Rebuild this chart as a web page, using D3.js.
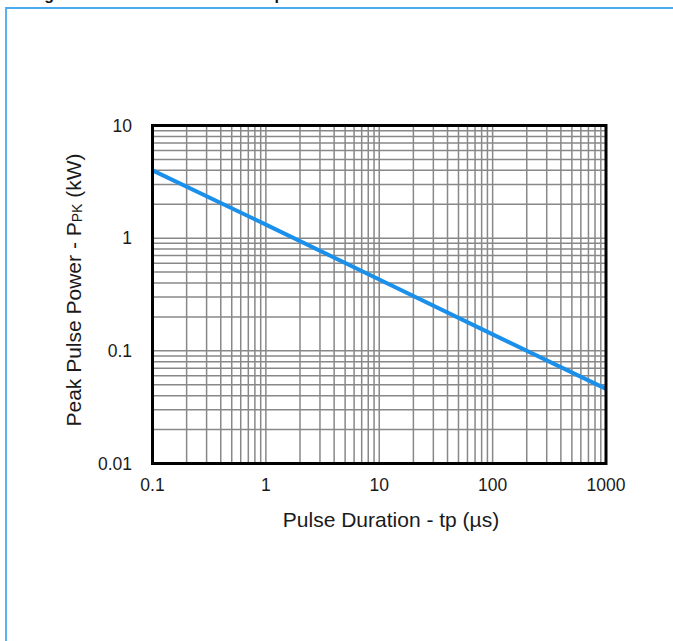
<!DOCTYPE html>
<html>
<head>
	<meta charset="utf-8">
	<title>Peak Pulse Power vs Pulse Duration</title>
	<script src="https://d3js.org/d3.v7.min.js"></script>
</head>
<style>
	body{
		margin:0;
		background-color:#fff;
		font-family: 'Liberation Sans', Arial, sans-serif;
	}
</style>
<body>
<div class="screen"></div>
<script>

//DATA

var pulseDuration = [0.1, 1, 10, 100, 1000];
var peakPower = [4.0, 1.32, 0.43, 0.14, 0.046];

var xTickLabels = ["0.1", "1", "10", "100", "1000"];
var yTickLabels = ["0.01", "0.1", "1", "10"];

var titleText = "Figure 1. Peak Pulse Power vs. tp";
var xTitle = "Pulse Duration - tp (µs)";

//SETUP

var width = 673;
var height = 641;

var svg = d3.select(".screen")
	.append("svg")
	.attr("width", width)
	.attr("height", height);

var x = d3.scaleLog()
	.domain([0.1, 1000])
	.range([152.5, 606]);

var y = d3.scaleLog()
	.domain([0.01, 10])
	.range([463.5, 125.5]);

//FRAME AND CUT-OFF TITLE

svg.append("text")
	.attr("x", 30)
	.attr("y", -0.5)
	.attr("font-size", "16px")
	.attr("font-weight", "bold")
	.attr("fill", "#111")
	.text(titleText);

svg.append("path")
	.attr("d", "M6," + height + "V8H" + width)
	.attr("fill", "none")
	.attr("stroke", "#49aaf0")
	.attr("stroke-width", 1.8);

//GRID

var grid = svg.append("g");

grid.selectAll(".vgrid")
	.data(x.ticks())
	.enter()
	.append("line")
	.attr("class", "vgrid")
	.attr("x1", function(d){ return x(d); })
	.attr("x2", function(d){ return x(d); })
	.attr("y1", y.range()[0])
	.attr("y2", y.range()[1])
	.attr("stroke", "#888")
	.attr("stroke-width", 1.5);

grid.selectAll(".hgrid")
	.data(y.ticks())
	.enter()
	.append("line")
	.attr("class", "hgrid")
	.attr("y1", function(d){ return y(d); })
	.attr("y2", function(d){ return y(d); })
	.attr("x1", x.range()[0])
	.attr("x2", x.range()[1])
	.attr("stroke", "#888")
	.attr("stroke-width", 1.5);

//CURVE

var line = d3.line()
	.x(function(d, i){ return x(pulseDuration[i]); })
	.y(function(d){ return y(d); });

svg.append("path")
	.datum(peakPower)
	.attr("d", line)
	.attr("fill", "none")
	.attr("stroke", "#1a90ea")
	.attr("stroke-width", 4);

//PLOT BORDER

svg.append("rect")
	.attr("x", x.range()[0])
	.attr("y", y.range()[1])
	.attr("width", x.range()[1] - x.range()[0])
	.attr("height", y.range()[0] - y.range()[1])
	.attr("fill", "none")
	.attr("stroke", "#000")
	.attr("stroke-width", 3);

//TICK LABELS

svg.selectAll(".xlabel")
	.data(xTickLabels)
	.enter()
	.append("text")
	.attr("class", "xlabel")
	.attr("x", function(d){ return x(+d); })
	.attr("y", 491)
	.attr("text-anchor", "middle")
	.attr("font-size", "17.5px")
	.attr("fill", "#1a1a1a")
	.text(function(d){ return d; });

svg.selectAll(".ylabel")
	.data(yTickLabels)
	.enter()
	.append("text")
	.attr("class", "ylabel")
	.attr("x", 132)
	.attr("y", function(d){ return y(+d) + 6; })
	.attr("text-anchor", "end")
	.attr("font-size", "17.5px")
	.attr("fill", "#1a1a1a")
	.text(function(d){ return d; });

//AXIS TITLES

svg.append("text")
	.attr("x", 391)
	.attr("y", 527)
	.attr("text-anchor", "middle")
	.attr("font-size", "21px")
	.attr("fill", "#1a1a1a")
	.text(xTitle);

var yt = svg.append("text")
	.attr("transform", "translate(81,290) rotate(-90)")
	.attr("text-anchor", "middle")
	.attr("font-size", "21px")
	.attr("fill", "#1a1a1a");
yt.append("tspan").text("Peak Pulse Power - P");
yt.append("tspan").attr("font-size", "14px").attr("dy", 1).text("PK");
yt.append("tspan").attr("dy", -1).text(" (kW)");

</script>
</body>
</html>
